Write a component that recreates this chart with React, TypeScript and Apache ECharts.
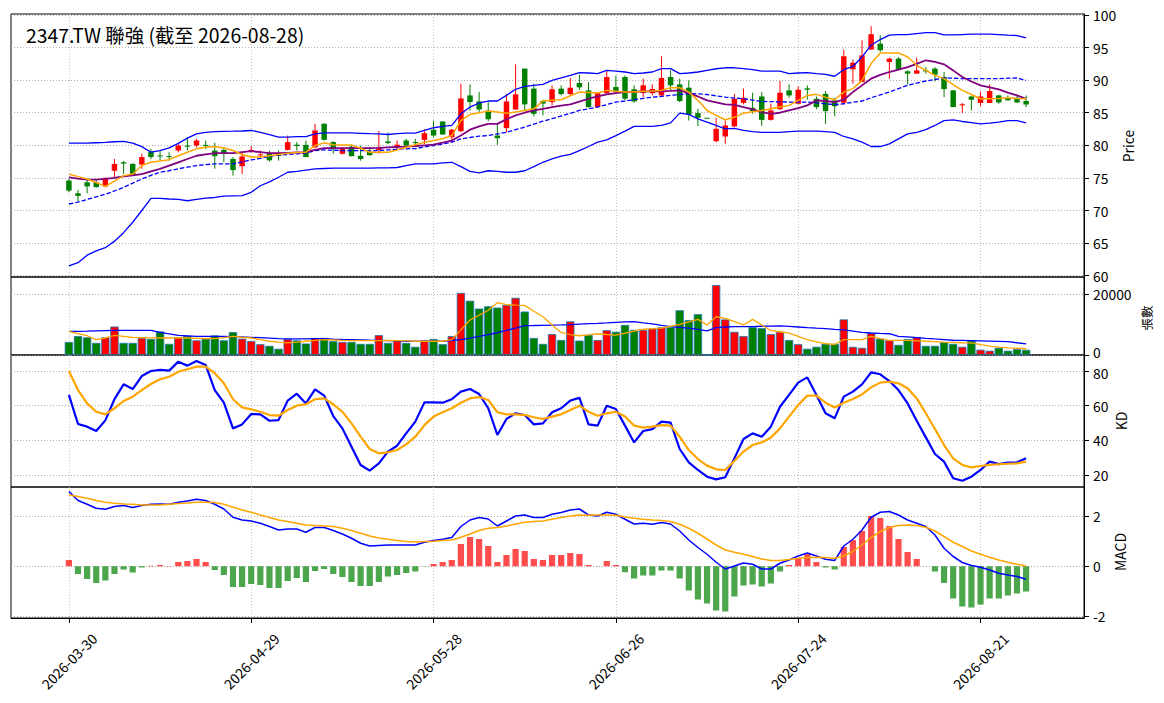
import React, { useEffect, useRef } from "react";
import * as echarts from "echarts";

const FONT = '"Noto Sans CJK TC", "Noto Sans", sans-serif';
const RED = "#ff0000";
const GREEN = "#008000";

const dayList =
  "03-30 03-31 04-01 04-02 04-07 04-08 04-09 04-10 04-13 04-14 04-15 04-16 04-17 04-20 04-21 04-22 04-23 04-24 04-27 04-28 04-29 04-30 05-04 05-05 05-06 05-07 05-08 05-11 05-12 05-13 05-14 05-15 05-18 05-19 05-20 05-21 05-22 05-25 05-26 05-27 05-28 05-29 06-01 06-02 06-03 06-04 06-05 06-08 06-09 06-10 06-11 06-12 06-15 06-16 06-17 06-18 06-22 06-23 06-24 06-25 06-26 06-29 06-30 07-01 07-02 07-03 07-06 07-07 07-08 07-09 07-10 07-13 07-14 07-15 07-16 07-17 07-20 07-21 07-22 07-23 07-24 07-27 07-28 07-29 07-30 07-31 08-03 08-04 08-05 08-06 08-07 08-10 08-11 08-12 08-13 08-14 08-17 08-18 08-19 08-20 08-21 08-24 08-25 08-26 08-27 08-28";
const dates = dayList.split(" ").map((d) => "2026-" + d);

const open = [
  74.6, 72.65, 74.33, 74.33, 73.7, 76.1, 77.4, 77.15, 77.05, 79.0,
  78.45, 78.35, 79.2, 79.97, 79.97, 80.07, 79.2, 79.3, 77.9, 76.8,
  79.1, 78.45, 78.8, 78.55, 79.3, 80.1, 80.07, 79.7, 83.3, 80.5,
  78.7, 79.8, 78.4, 79.0, 79.3, 80.6, 79.7, 80.74, 80.5, 80.84,
  82.4, 83.66, 81.25, 82.17, 87.66, 86.74, 85.35, 81.5, 82.64, 85.5,
  91.77, 88.7, 86.8, 86.64, 88.7, 87.87, 89.56, 88.43, 85.87, 88.0,
  88.94, 90.48, 88.6, 88.02, 88.0, 87.66, 90.48, 89.35, 88.84, 84.94,
  84.23, 80.64, 81.36, 82.9, 86.5, 85.77, 87.5, 83.9, 85.56, 88.43,
  86.38, 88.74, 87.15, 87.9, 86.9, 86.53, 91.66, 89.7, 94.69, 95.6,
  92.8, 93.3, 91.36, 91.0, 91.5, 91.77, 90.48, 88.43, 86.13, 87.5,
  86.5, 86.5, 87.66, 87.3, 87.3, 86.8,
];
const close = [
  73.05, 72.25, 73.7, 73.6, 75.0, 77.15, 77.2, 75.4, 78.2, 78.2,
  78.3, 78.2, 79.97, 79.8, 80.74, 79.9, 78.33, 78.8, 76.2, 78.3,
  79.3, 78.6, 77.7, 78.45, 80.5, 79.9, 78.2, 82.28, 80.84, 79.45,
  79.45, 78.33, 77.9, 78.5, 79.6, 80.35, 80.1, 79.97, 80.4, 81.87,
  81.5, 81.66, 82.4, 87.2, 86.64, 85.5, 84.0, 81.1, 86.74, 87.82,
  86.28, 84.84, 86.4, 88.6, 87.87, 88.84, 88.9, 85.87, 88.0, 90.48,
  88.17, 87.15, 86.74, 89.2, 88.64, 90.33, 89.2, 86.8, 84.74, 84.23,
  84.23, 82.53, 83.05, 87.15, 87.3, 85.25, 83.9, 85.35, 88.07, 87.66,
  88.53, 88.53, 85.87, 85.25, 86.0, 93.66, 92.66, 93.8, 97.05, 94.6,
  93.3, 91.66, 91.0, 91.5, 91.36, 90.84, 88.64, 85.87, 86.3, 87.0,
  87.5, 88.33, 86.58, 86.9, 86.58, 86.28,
];
const low = [
  72.8, 71.4, 72.65, 73.5, 73.56, 75.1, 75.6, 75.35, 76.4, 77.9,
  77.75, 77.65, 78.95, 79.2, 79.7, 79.45, 76.4, 77.4, 75.35, 75.6,
  78.95, 78.2, 77.5, 77.65, 79.2, 79.2, 78.2, 79.6, 80.74, 78.7,
  78.6, 78.33, 77.65, 78.4, 78.7, 80.2, 79.45, 79.7, 79.97, 80.2,
  81.25, 81.66, 80.5, 82.0, 85.35, 85.1, 83.7, 80.07, 82.0, 85.45,
  85.35, 84.43, 84.6, 86.13, 87.66, 87.66, 88.5, 85.77, 85.77, 87.9,
  87.9, 86.9, 86.53, 87.4, 87.66, 87.5, 88.43, 86.64, 83.8, 82.94,
  84.23, 80.48, 80.23, 82.79, 86.28, 84.84, 83.0, 83.8, 85.45, 87.3,
  86.28, 87.0, 85.56, 83.3, 84.48, 86.38, 89.45, 89.7, 94.69, 94.33,
  90.23, 91.5, 89.35, 91.0, 91.0, 89.8, 87.4, 85.87, 84.94, 85.35,
  85.97, 86.5, 86.38, 86.9, 86.48, 85.87,
];
const high = [
  74.85, 73.15, 74.85, 74.85, 75.1, 77.9, 77.6, 77.25, 78.7, 79.45,
  79.1, 78.95, 80.2, 81.25, 81.0, 80.74, 80.4, 79.7, 78.2, 78.95,
  79.9, 79.2, 79.2, 79.2, 81.5, 80.5, 80.74, 83.3, 83.4, 80.64,
  79.7, 79.97, 79.97, 79.7, 82.2, 82.0, 80.74, 81.0, 81.0, 82.5,
  83.8, 83.66, 82.5, 89.45, 89.35, 88.2, 86.64, 83.3, 87.9, 92.43,
  91.77, 89.45, 87.0, 89.2, 89.2, 90.33, 90.84, 89.7, 88.17, 91.5,
  90.69, 90.74, 89.2, 90.23, 89.35, 93.66, 91.5, 90.23, 89.97, 85.6,
  84.23, 84.23, 83.8, 87.9, 88.7, 88.07, 88.17, 86.4, 89.87, 89.35,
  89.05, 89.2, 87.5, 88.33, 87.3, 94.7, 93.15, 96.12, 98.28, 96.9,
  93.46, 93.56, 91.5, 93.46, 92.0, 92.0, 91.25, 88.43, 86.5, 87.5,
  88.28, 89.35, 87.76, 87.66, 87.66, 87.66,
];

const ma5 = [
  75.6, 75.2, 74.84, 74.3, 73.7, 74.5, 75.35, 75.6, 76.9, 77.4,
  77.6, 77.8, 78.4, 78.94, 79.46, 79.7, 79.82, 79.6, 79.2, 78.6,
  78.2, 78.2, 78.4, 78.6, 78.8, 78.9, 78.94, 79.97, 80.38, 80.1,
  80.05, 80.07, 79.56, 78.94, 78.94, 78.94, 79.3, 79.72, 80.1, 80.48,
  80.75, 81.0, 81.5, 83.8, 84.74, 85.0, 85.25, 85.1, 84.94, 85.1,
  85.35, 85.6, 86.8, 86.9, 87.0, 87.6, 88.17, 88.1, 88.02, 88.43,
  88.3, 88.17, 88.2, 88.28, 88.35, 88.43, 88.84, 88.84, 88.17, 86.9,
  85.35, 84.6, 83.92, 84.3, 84.94, 85.15, 85.35, 85.6, 85.87, 86.13,
  86.9, 87.66, 87.82, 87.4, 87.0, 88.17, 88.7, 89.97, 92.54, 94.18,
  94.18, 94.18, 93.56, 92.28, 91.5, 90.74, 90.23, 89.3, 88.43, 87.8,
  87.15, 87.15, 87.2, 87.3, 87.2, 87.15,
];
const ma10 = [
  75.1, 74.9, 74.74, 74.75, 74.84, 75.0, 75.25, 75.4, 75.6, 76.0,
  76.4, 76.9, 77.4, 77.9, 78.4, 78.6, 78.8, 78.8, 78.8, 78.95,
  79.1, 78.95, 78.8, 78.8, 78.85, 78.9, 78.94, 79.3, 79.56, 79.56,
  79.56, 79.56, 79.56, 79.56, 79.6, 79.7, 79.75, 79.8, 79.9, 80.0,
  80.1, 80.4, 80.74, 81.5, 82.4, 82.9, 83.3, 83.3, 84.0, 84.6,
  85.0, 85.35, 85.6, 85.87, 86.1, 86.28, 86.7, 87.15, 87.5, 87.82,
  88.0, 88.17, 88.22, 88.28, 88.28, 88.28, 88.35, 88.43, 88.02, 87.5,
  86.9, 86.6, 86.28, 86.2, 85.87, 85.5, 85.1, 84.84, 85.0, 85.35,
  85.7, 86.13, 86.9, 86.8, 86.64, 87.0, 88.17, 89.2, 90.23, 90.8,
  91.25, 91.6, 92.0, 92.5, 93.05, 92.8, 92.43, 91.5, 90.48, 89.8,
  89.2, 88.9, 88.6, 88.1, 87.66, 87.15,
];
const ma20 = [
  71.0, 71.3, 71.7, 72.1, 72.5, 73.0, 73.56, 74.2, 74.84, 75.4,
  75.87, 76.1, 76.4, 76.65, 76.9, 77.05, 77.15, 77.15, 77.15, 77.45,
  77.76, 78.0, 78.33, 78.5, 78.6, 78.7, 78.8, 79.2, 79.3, 79.25,
  79.2, 79.2, 79.2, 79.15, 79.2, 79.3, 79.4, 79.47, 79.5, 79.75,
  79.97, 80.2, 80.48, 81.0, 81.2, 81.4, 81.5, 81.75, 82.0, 82.4,
  82.8, 83.25, 83.7, 84.1, 84.5, 84.9, 85.35, 85.6, 85.87, 86.25,
  86.64, 86.8, 87.0, 87.2, 87.4, 87.5, 87.66, 87.8, 87.92, 87.9,
  87.8, 87.6, 87.4, 87.25, 87.15, 86.95, 86.74, 86.7, 86.68, 86.64,
  86.64, 86.64, 86.5, 86.38, 86.23, 86.38, 86.6, 86.8, 87.3, 87.75,
  88.17, 88.7, 89.2, 89.55, 89.87, 90.1, 90.33, 90.3, 90.23, 90.23,
  90.23, 90.23, 90.23, 90.3, 90.33, 89.97,
];
const bbUpper = [
  80.33, 80.33, 80.33, 80.4, 80.45, 80.55, 80.6, 80.35, 79.8, 78.95,
  79.2, 79.6, 80.3, 81.1, 81.75, 82.0, 82.1, 82.15, 82.17, 82.2,
  82.28, 82.0, 81.66, 81.25, 81.25, 81.35, 81.35, 81.75, 81.9, 81.9,
  81.9, 81.9, 81.85, 81.8, 81.76, 81.66, 81.8, 81.87, 81.87, 82.3,
  82.7, 82.9, 83.05, 84.84, 85.87, 86.5, 86.8, 86.8, 87.66, 88.6,
  89.05, 89.2, 89.35, 89.97, 90.35, 90.74, 91.15, 91.1, 91.0, 91.5,
  91.4, 91.25, 91.0, 91.1, 91.25, 91.77, 91.77, 91.0, 91.1, 91.25,
  91.5, 91.75, 91.9, 91.9, 91.77, 91.6, 91.4, 91.4, 91.4, 91.0,
  91.1, 91.15, 91.0, 90.9, 90.6, 91.6, 92.1, 93.56, 95.36, 96.23,
  96.9, 97.0, 97.0, 97.15, 97.3, 97.3, 96.95, 96.95, 97.0, 97.05,
  97.05, 97.05, 97.0, 96.9, 96.85, 96.5,
];
const bbLower = [
  61.5, 62.0, 63.15, 63.8, 64.3, 65.3, 66.6, 68.2, 70.0, 71.85,
  71.85, 71.77, 71.7, 71.5, 71.7, 71.9, 72.0, 72.2, 72.25, 72.3,
  72.8, 73.8, 74.4, 75.1, 75.87, 76.0, 76.2, 76.4, 76.45, 76.5,
  76.5, 76.5, 76.5, 76.5, 76.55, 76.55, 76.6, 76.9, 77.15, 77.15,
  77.15, 77.3, 77.4, 76.74, 76.0, 75.77, 76.1, 76.0, 75.87, 75.87,
  76.1, 76.74, 77.4, 77.92, 78.33, 78.6, 79.2, 79.82, 80.48, 80.84,
  81.5, 82.17, 82.9, 82.9, 82.9, 83.05, 83.45, 84.94, 84.74, 84.07,
  83.56, 83.05, 82.53, 82.6, 82.3, 82.1, 82.0, 82.0, 82.0, 82.1,
  82.17, 82.17, 82.17, 82.1, 82.0, 81.36, 81.0, 80.48, 79.82, 79.82,
  80.23, 81.0, 81.76, 82.0, 82.4, 83.05, 83.8, 83.92, 83.66, 83.5,
  83.3, 83.4, 83.56, 83.8, 83.8, 83.45,
];

const volume = [
  4260, 6200, 5770, 3960, 5770, 9300, 3960, 3960, 5560, 5230,
  7700, 3640, 5770, 6300, 4800, 5340, 6400, 4800, 7480, 5340,
  4600, 3530, 3000, 2040, 5230, 4800, 3750, 5560, 5560, 4500,
  4270, 4270, 3640, 3640, 6500, 3960, 4800, 3960, 2680, 4800,
  5230, 3530, 6200, 20300, 17740, 15170, 15920, 15500, 16340, 18700,
  14200, 5560, 3640, 6830, 4900, 11000, 4700, 6600, 4900, 8100,
  7590, 9830, 8220, 8220, 8650, 9080, 9080, 14630, 11430, 13350,
  0, 22860, 11640, 7590, 6200, 9080, 8770, 6830, 7590, 4900,
  3530, 2040, 2680, 3640, 3640, 11640, 2680, 2360, 7170, 5340,
  4800, 3320, 5230, 5880, 3000, 3000, 4180, 3640, 2680, 4700,
  1720, 1400, 2360, 1400, 1930, 1720,
];
const volMa5 = [
  7700, 7000, 6300, 5030, 5560, 6400, 6100, 5780, 5700, 5600,
  5560, 5560, 5560, 5560, 5450, 5400, 5350, 5700, 6100, 5800,
  5560, 5000, 4500, 4200, 3960, 4200, 4500, 4750, 5030, 4900,
  4800, 4710, 4710, 4710, 4710, 4750, 4700, 4600, 4500, 4500,
  4500, 4500, 5030, 8220, 11430, 13000, 14630, 17100, 16450, 16300,
  16230, 14300, 12500, 9800, 7370, 6630, 6300, 6600, 6950, 6700,
  6520, 7160, 7800, 8450, 8600, 8770, 9400, 10040, 10800, 11640,
  9830, 12500, 11970, 10900, 9830, 11640, 9830, 8020, 7600, 7160,
  6100, 5030, 4300, 3750, 3430, 5030, 5030, 5030, 6100, 5350,
  4800, 4800, 4800, 4650, 4500, 4340, 4180, 4100, 4000, 3960,
  3400, 2890, 2600, 2360, 2200, 2040,
];
const volMa20 = [
  7700, 7750, 7800, 7900, 8000, 8020, 8020, 8020, 8020, 8020,
  7380, 6900, 6400, 6250, 6100, 6100, 6100, 6100, 6000, 5900,
  5780, 5650, 5500, 5350, 5240, 5250, 5300, 5350, 5350, 5200,
  5100, 5030, 4950, 4850, 4800, 4710, 4600, 4500, 4500, 4500,
  4500, 4500, 4700, 5030, 5550, 6100, 6630, 7350, 8050, 8770,
  9620, 9650, 9700, 9780, 9830, 9950, 10100, 10250, 10370, 10500,
  10650, 10800, 10900, 10500, 10150, 9700, 9300, 9050, 8770, 8350,
  7900, 8970, 9150, 9300, 9300, 9300, 9400, 9450, 9510, 9350,
  9150, 8950, 8770, 8600, 8400, 8220, 7800, 7370, 7200, 7050,
  6950, 6100, 5900, 5700, 5460, 5250, 5050, 4820, 4750, 4680,
  4600, 4530, 4460, 4390, 4000, 3640,
];

const kLine = [
  66.2, 49.4, 47.9, 45.4, 51.5, 63.8, 72.3, 69.6, 77.1, 80.0,
  80.6, 80.2, 85.4, 83.1, 85.8, 83.5, 69.0, 61.7, 46.9, 49.2,
  55.2, 55.0, 51.3, 51.7, 62.9, 66.9, 61.3, 69.4, 65.8, 54.0,
  46.9, 36.3, 25.8, 22.5, 26.7, 33.5, 36.9, 44.0, 50.8, 61.9,
  61.9, 61.7, 63.7, 68.1, 69.6, 66.7, 58.5, 43.1, 52.3, 55.6,
  54.6, 49.2, 49.8, 56.2, 58.5, 62.9, 64.6, 49.2, 48.5, 60.0,
  58.1, 48.5, 38.8, 45.4, 46.5, 50.8, 50.2, 35.0, 27.3, 22.9,
  19.0, 17.5, 18.7, 29.6, 40.8, 44.0, 42.1, 47.9, 59.4, 66.2,
  73.3, 76.3, 66.2, 55.6, 52.7, 65.2, 68.1, 72.3, 79.2, 78.1,
  74.2, 69.0, 61.3, 51.3, 41.7, 32.1, 27.7, 18.1, 16.7, 19.0,
  22.9, 27.7, 26.3, 27.1, 27.3, 29.6,
];
const dLine = [
  80.0, 69.0, 61.3, 56.5, 55.0, 58.5, 62.7, 65.2, 69.0, 72.5,
  75.2, 76.7, 79.6, 81.0, 82.5, 82.5, 78.7, 72.9, 63.7, 59.0,
  57.9, 56.5, 54.6, 54.2, 57.5, 60.0, 60.8, 63.7, 64.2, 60.8,
  56.5, 49.8, 42.1, 35.0, 32.5, 33.1, 34.4, 37.7, 42.1, 48.8,
  53.7, 56.2, 58.5, 61.7, 64.2, 65.0, 63.3, 56.2, 55.0, 55.0,
  54.6, 53.3, 52.3, 53.7, 55.0, 57.5, 60.0, 56.5, 54.2, 55.6,
  56.5, 53.7, 48.5, 47.3, 47.9, 48.8, 48.5, 42.1, 34.4, 29.2,
  25.4, 23.3, 22.9, 28.1, 33.5, 37.3, 38.8, 41.5, 46.9, 53.7,
  60.4, 65.8, 65.8, 61.7, 59.0, 61.7, 63.8, 66.5, 70.6, 73.3,
  73.8, 72.9, 70.0, 64.2, 55.6, 46.5, 37.3, 29.6, 25.8, 24.4,
  25.2, 25.8, 26.2, 26.5, 26.7, 27.7,
];

const dif = [
  2.99, 2.63, 2.48, 2.32, 2.28, 2.39, 2.43, 2.35, 2.43, 2.48,
  2.49, 2.48, 2.56, 2.61, 2.68, 2.63, 2.48, 2.29, 1.96, 1.85,
  1.81, 1.72, 1.59, 1.45, 1.49, 1.49, 1.36, 1.55, 1.55, 1.43,
  1.29, 1.12, 0.92, 0.81, 0.83, 0.85, 0.85, 0.85, 0.85, 0.96,
  1.03, 1.08, 1.15, 1.59, 1.85, 1.95, 1.89, 1.61, 1.81, 2.01,
  2.05, 1.95, 1.95, 2.08, 2.15, 2.25, 2.29, 2.05, 2.01, 2.16,
  2.08, 1.88, 1.69, 1.72, 1.68, 1.75, 1.69, 1.41, 1.05, 0.75,
  0.48, 0.16, -0.11, 0.01, 0.13, 0.08, -0.11, -0.11, 0.12, 0.25,
  0.41, 0.53, 0.41, 0.28, 0.23, 0.81, 1.08, 1.45, 1.96, 2.16,
  2.19, 2.05, 1.85, 1.72, 1.59, 1.25, 0.72, 0.39, 0.15, 0.03,
  -0.04, -0.15, -0.28, -0.35, -0.41, -0.52,
];
const dea = [
  2.85, 2.79, 2.72, 2.63, 2.56, 2.52, 2.49, 2.48, 2.45, 2.45,
  2.45, 2.48, 2.51, 2.53, 2.56, 2.56, 2.55, 2.48, 2.36, 2.25,
  2.16, 2.05, 1.95, 1.85, 1.79, 1.72, 1.65, 1.63, 1.61, 1.59,
  1.52, 1.43, 1.32, 1.21, 1.13, 1.08, 1.03, 0.99, 0.97, 0.99,
  1.0, 1.03, 1.05, 1.16, 1.29, 1.43, 1.52, 1.55, 1.61, 1.69,
  1.76, 1.79, 1.81, 1.88, 1.95, 2.01, 2.05, 2.04, 2.05, 2.05,
  2.04, 1.97, 1.92, 1.88, 1.85, 1.83, 1.79, 1.68, 1.52, 1.32,
  1.09, 0.85, 0.65, 0.56, 0.48, 0.39, 0.29, 0.23, 0.23, 0.27,
  0.32, 0.35, 0.36, 0.35, 0.32, 0.41, 0.59, 0.85, 1.15, 1.39,
  1.55, 1.63, 1.65, 1.63, 1.56, 1.41, 1.19, 0.96, 0.79, 0.61,
  0.48, 0.36, 0.25, 0.16, 0.08, 0.01,
];
const hist = [
  0.25, -0.31, -0.51, -0.67, -0.57, -0.31, -0.13, -0.25, -0.05, 0.02,
  0.05, 0.01, 0.17, 0.21, 0.29, 0.17, -0.15, -0.35, -0.83, -0.83,
  -0.71, -0.75, -0.87, -0.87, -0.59, -0.47, -0.63, -0.19, -0.11, -0.31,
  -0.43, -0.63, -0.79, -0.79, -0.63, -0.41, -0.35, -0.27, -0.21, -0.01,
  0.09, 0.17, 0.25, 0.89, 1.17, 1.09, 0.81, 0.17, 0.45, 0.69,
  0.61, 0.29, 0.25, 0.45, 0.45, 0.53, 0.49, 0.05, -0.01, 0.21,
  0.05, -0.24, -0.49, -0.37, -0.37, -0.17, -0.17, -0.49, -0.97, -1.33,
  -1.49, -1.77, -1.81, -1.21, -0.77, -0.73, -0.81, -0.69, -0.21, 0.05,
  0.32, 0.49, 0.17, -0.05, -0.13, 0.77, 1.05, 1.41, 2.01, 1.93,
  1.61, 1.09, 0.57, 0.29, 0.0, -0.21, -0.67, -1.29, -1.61, -1.65,
  -1.53, -1.29, -1.29, -1.17, -1.09, -1.01,
];

const xTicks = [0, 20, 40, 60, 80, 100];
const priceTicks = [60, 65, 70, 75, 80, 85, 90, 95, 100];
const volTicks = [0, 20000];
const kdTicks = [20, 40, 60, 80];
const macdTicks = [-2, 0, 2];

const XMIN = -6.35;
const XMAX = 111.35;
// nudge: label value that gets shifted slightly so adjacent panel labels do not collide
const PANELS = [
  { top: 14, height: 263, min: 59.8, max: 100.15, ticks: priceTicks, nudge: null as any },
  { top: 277, height: 78, min: 0, max: 25500, ticks: volTicks, nudge: { v: 0, pad: [0, 0, 7, 0] } },
  { top: 355, height: 132, min: 13.08, max: 89.23, ticks: kdTicks, nudge: { v: 80, pad: [4, 0, 0, 0] } },
  { top: 487, height: 131, min: -2.07, max: 3.17, ticks: macdTicks, nudge: null as any },
];

const pts = (arr: number[]) => arr.map((v, i) => [i, v]);

function buildOption(): any {
  const grid = PANELS.map((p) => ({
    left: 11,
    right: 80,
    top: p.top,
    height: p.height,
    show: true,
    borderColor: "#000",
    borderWidth: 1,
    backgroundColor: "transparent",
  }));
  const xAxis = PANELS.map((_, gi) => ({
    type: "value",
    gridIndex: gi,
    min: XMIN,
    max: XMAX,
    axisLine: { show: gi === 3, onZero: false, lineStyle: { color: "#000", width: 1 } },
    axisTick: { show: gi === 3, customValues: xTicks, length: 5, lineStyle: { color: "#000" } },
    axisLabel: {
      show: gi === 3,
      customValues: xTicks,
      formatter: (v: number) => dates[Math.round(v)] ?? "",
      rotate: 45,
      align: "center",
      verticalAlign: "middle",
      margin: 43,
      fontSize: 13.9,
      color: "#000",
      fontFamily: FONT,
    },
    splitLine: { show: true, lineStyle: { color: "#b8b8b8", type: [1, 2], width: 0.8 } },
  }));
  const yAxis = PANELS.map((p, gi) => ({
    type: "value",
    gridIndex: gi,
    position: "right",
    min: p.min,
    max: p.max,
    axisLine: { show: true, onZero: false, lineStyle: { color: "#000", width: 1 } },
    axisTick: { show: true, customValues: p.ticks, length: 5, lineStyle: { color: "#000" } },
    axisLabel: {
      customValues: p.ticks,
      formatter: (v: number) => {
        const s = String(Math.round(v * 100) / 100);
        return p.nudge && Math.abs(v - p.nudge.v) < 1e-6 ? `{n|${s}}` : s;
      },
      margin: 9,
      fontSize: 13.9,
      color: "#000",
      fontFamily: FONT,
      rich: p.nudge
        ? { n: { padding: p.nudge.pad, fontSize: 13.9, color: "#000", fontFamily: FONT } }
        : undefined,
    },
    splitLine: { show: true, lineStyle: { color: "#9a9a9a", type: [1, 2], width: 0.8 } },
  }));

  const line = (gi: number, data: number[], color: string, width: number, dash?: any) => ({
    type: "line",
    xAxisIndex: gi,
    yAxisIndex: gi,
    data: pts(data),
    showSymbol: false,
    symbol: "none",
    silent: true,
    lineStyle: { color, width, type: dash || "solid" },
    z: 3,
  });

  const candleData = dates.map((_, i) => [i, open[i], close[i], low[i], high[i]]);

  const series: any[] = [
    {
      type: "custom",
      xAxisIndex: 0,
      yAxisIndex: 0,
      data: candleData,
      encode: { x: 0, y: [1, 2, 3, 4] },
      z: 2,
      renderItem: (params: any, api: any) => {
        const i = api.value(0);
        const o = api.value(1);
        const c = api.value(2);
        const l = api.value(3);
        const h = api.value(4);
        const pO = api.coord([i, o]);
        const pC = api.coord([i, c]);
        const pL = api.coord([i, l]);
        const pH = api.coord([i, h]);
        const bw = api.size([1, 0])[0] * 0.6;
        const color = c > o ? RED : GREEN;
        const top = Math.min(pO[1], pC[1]);
        const hgt = Math.max(Math.abs(pO[1] - pC[1]), 1);
        return {
          type: "group",
          children: [
            {
              type: "line",
              shape: { x1: pL[0], y1: pL[1], x2: pH[0], y2: pH[1] },
              style: { stroke: color, lineWidth: 1 },
            },
            {
              type: "rect",
              shape: { x: pO[0] - bw / 2, y: top, width: bw, height: hgt },
              style: { fill: color, stroke: null },
            },
          ],
        };
      },
    },
    line(0, bbUpper, "#0000ff", 1.3),
    line(0, bbLower, "#0000ff", 1.3),
    line(0, ma20, "#0000ff", 1.3, [4.5, 2]),
    line(0, ma10, "#800080", 1.8),
    line(0, ma5, "#ffa500", 1.5),
    {
      type: "bar",
      xAxisIndex: 1,
      yAxisIndex: 1,
      barWidth: 8.3,
      data: volume.map((v, i) => ({
        value: [i, v],
        itemStyle: { color: close[i] > open[i] ? RED : GREEN },
      })),
      itemStyle: { borderColor: "#1f77b4", borderWidth: 0.8 },
      silent: true,
      z: 2,
    },
    line(1, volMa20, "#0000ff", 1.3),
    line(1, volMa5, "#ffa500", 1.3),
    line(2, kLine, "#0000ff", 2.2),
    line(2, dLine, "#ffa500", 2.2),
    {
      type: "bar",
      xAxisIndex: 3,
      yAxisIndex: 3,
      barWidth: 6.2,
      data: hist.map((v, i) => ({
        value: [i, v],
        itemStyle: { color: v >= 0 ? "rgba(255,0,0,0.7)" : "rgba(0,128,0,0.7)" },
      })),
      silent: true,
      z: 2,
    },
    line(3, dif, "#0000ff", 1.5),
    line(3, dea, "#ffa500", 1.5),
  ];

  const sideText = (text: string, x: number, y: number, size: number) => ({
    type: "text",
    x,
    y,
    rotation: Math.PI / 2,
    style: {
      text,
      fill: "#000",
      font: `${size}px ${FONT}`,
      textAlign: "center",
      textVerticalAlign: "middle",
    },
  });

  return {
    animation: false,
    backgroundColor: "#fff",
    grid,
    xAxis,
    yAxis,
    series,
    graphic: [
      {
        type: "text",
        x: 26,
        y: 34.5,
        style: {
          text: "2347.TW 聯強 (截至 2026-08-28)",
          fill: "#000",
          font: `19.4px ${FONT}`,
          textAlign: "left",
          textVerticalAlign: "middle",
        },
      },
      sideText("Price", 1128, 146, 13.9),
      sideText("張數", 1146, 318, 12.5),
      sideText("KD", 1121, 421, 13.9),
      sideText("MACD", 1120, 552, 13.9),
    ],
  };
}

export default function App() {
  const ref = useRef<HTMLDivElement>(null);
  useEffect(() => {
    if (!ref.current) return;
    const chart = echarts.init(ref.current, null, { renderer: "svg" });
    chart.setOption(buildOption());
    return () => chart.dispose();
  }, []);
  return (
    <div
      ref={ref}
      style={{ position: "fixed", left: 0, top: 0, width: 1164, height: 703, background: "#fff" }}
    />
  );
}
